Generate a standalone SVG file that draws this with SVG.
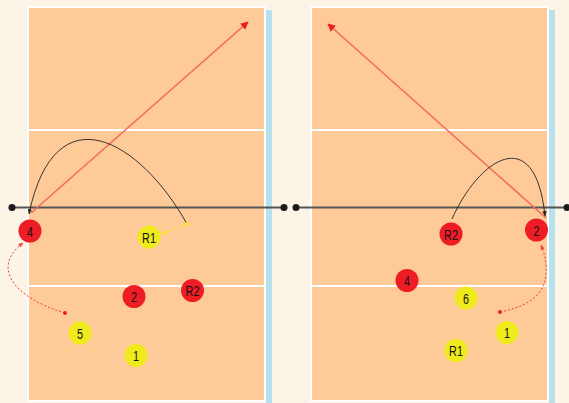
<svg xmlns="http://www.w3.org/2000/svg" width="569" height="403" viewBox="0 0 569 403">
<style>
.bg{fill:#FCF4E6}
.court{fill:#FECB98;stroke:#FFFFFF;stroke-width:2}
.strip{fill:#B7E1EC}
.zone{stroke:#FFFFFF;stroke-width:2}
.net{stroke:#555555;stroke-width:2}
.post{fill:#1A1A1A}
.red{fill:#EE1C25}
.yel{fill:#EEEA1C}
.lbl{font-family:"Liberation Sans",Arial,sans-serif;font-size:15px;fill:#111111;text-anchor:middle}
.attack{fill:none;stroke:#F26B5B;stroke-width:1.6}
.set{fill:none;stroke:#222222;stroke-width:0.9}
.moveR{fill:none;stroke:#EE3B3B;stroke-width:1;stroke-dasharray:2 2}
.moveY{fill:none;stroke:#EEEA1C;stroke-width:1.2;stroke-dasharray:2 2}
</style>
<defs>
<marker id="ahRed" viewBox="0 0 10 10" refX="9" refY="5" markerWidth="5" markerHeight="5" orient="auto"><path d="M0,0 L10,5 L0,10 z" fill="#EE1C25"/></marker>
<marker id="ahBlk" viewBox="0 0 10 10" refX="9" refY="5" markerWidth="6" markerHeight="6" orient="auto"><path d="M0,1 L10,5 L0,9 z" fill="#222222"/></marker>
<marker id="ahDot" viewBox="0 0 10 10" refX="9" refY="5" markerWidth="5" markerHeight="5" orient="auto"><path d="M0,1 L10,5 L0,9 z" fill="#EE3B3B"/></marker>
<marker id="ahYel" viewBox="0 0 10 10" refX="9" refY="5" markerWidth="5" markerHeight="5" orient="auto"><path d="M0,1 L10,5 L0,9 z" fill="#EEEA1C"/></marker>
</defs>
<rect class="bg" x="0" y="0" width="569" height="403"/>
<g id="court-left">
<rect class="strip" x="266" y="10" width="6" height="393"/>
<rect class="court" x="28" y="7" width="237" height="394"/>
<line class="zone" x1="29" y1="130" x2="264" y2="130"/>
<line class="zone" x1="29" y1="286" x2="264" y2="286"/>
</g>
<g id="court-right">
<rect class="strip" x="549" y="10" width="6" height="393"/>
<rect class="court" x="311" y="7" width="237" height="394"/>
<line class="zone" x1="312" y1="130" x2="547" y2="130"/>
<line class="zone" x1="312" y1="286" x2="547" y2="286"/>
</g>
<g id="net-left">
<line class="net" x1="12" y1="207.5" x2="284" y2="207.5"/>
<circle class="post" cx="12" cy="207.5" r="3.5"/>
<circle class="post" cx="284" cy="207.5" r="3.5"/>
</g>
<g id="net-right">
<line class="net" x1="296" y1="207.5" x2="567" y2="207.5"/>
<circle class="post" cx="296" cy="207.5" r="3.5"/>
<circle class="post" cx="567" cy="207.5" r="3.5"/>
</g>
<g id="connectors">
<line class="attack" x1="31" y1="213" x2="248" y2="22" marker-end="url(#ahRed)"/>
<path class="set" d="M187,224 C140,140 55,90 29,214" marker-end="url(#ahBlk)"/>
<line class="moveY" x1="187" y1="224" x2="161" y2="234" marker-end="url(#ahYel)"/>
<circle cx="187" cy="224" r="2" fill="#EEEA1C"/>
<path class="moveR" d="M65,313 C15,298 -10,268 23,243" marker-end="url(#ahDot)"/>
<circle cx="65" cy="313" r="2" fill="#EE1C25"/>
<line class="attack" x1="546" y1="218" x2="328" y2="24" marker-end="url(#ahRed)"/>
<path class="set" d="M452,219 C478,160 535,120 545,216" marker-end="url(#ahBlk)"/>
<path class="moveR" d="M500,312 C535,305 548,290 546,265 C545,255 543,250 541,245" marker-end="url(#ahDot)"/>
<circle cx="500" cy="312" r="2" fill="#EE1C25"/>
</g>
<g id="L4"><circle class="red" cx="30" cy="231" r="11.5"/><text class="lbl" transform="translate(30,236.5) scale(0.72,1)">4</text></g>
<g id="LR1"><circle class="yel" cx="149" cy="237" r="11.5"/><text class="lbl" transform="translate(149,242.5) scale(0.72,1)">R1</text></g>
<g id="L2"><circle class="red" cx="134" cy="296.5" r="11.5"/><text class="lbl" transform="translate(134,302) scale(0.72,1)">2</text></g>
<g id="LR2"><circle class="red" cx="192.5" cy="290.5" r="11.5"/><text class="lbl" transform="translate(192.5,296) scale(0.72,1)">R2</text></g>
<g id="L5"><circle class="yel" cx="80" cy="333" r="11.5"/><text class="lbl" transform="translate(80,338.5) scale(0.72,1)">5</text></g>
<g id="L1"><circle class="yel" cx="136" cy="355.5" r="11.5"/><text class="lbl" transform="translate(136,361) scale(0.72,1)">1</text></g>
<g id="RR2"><circle class="red" cx="451" cy="234" r="11.5"/><text class="lbl" transform="translate(451,239.5) scale(0.72,1)">R2</text></g>
<g id="R2"><circle class="red" cx="536.5" cy="230" r="11.5"/><text class="lbl" transform="translate(536.5,235.5) scale(0.72,1)">2</text></g>
<g id="R4"><circle class="red" cx="407" cy="280.5" r="11.5"/><text class="lbl" transform="translate(407,286) scale(0.72,1)">4</text></g>
<g id="R6"><circle class="yel" cx="466" cy="298" r="11.5"/><text class="lbl" transform="translate(466,303.5) scale(0.72,1)">6</text></g>
<g id="R1"><circle class="yel" cx="507" cy="332.5" r="11.5"/><text class="lbl" transform="translate(507,338) scale(0.72,1)">1</text></g>
<g id="RR1"><circle class="yel" cx="456" cy="350.5" r="11.5"/><text class="lbl" transform="translate(456,356) scale(0.72,1)">R1</text></g>
</svg>
